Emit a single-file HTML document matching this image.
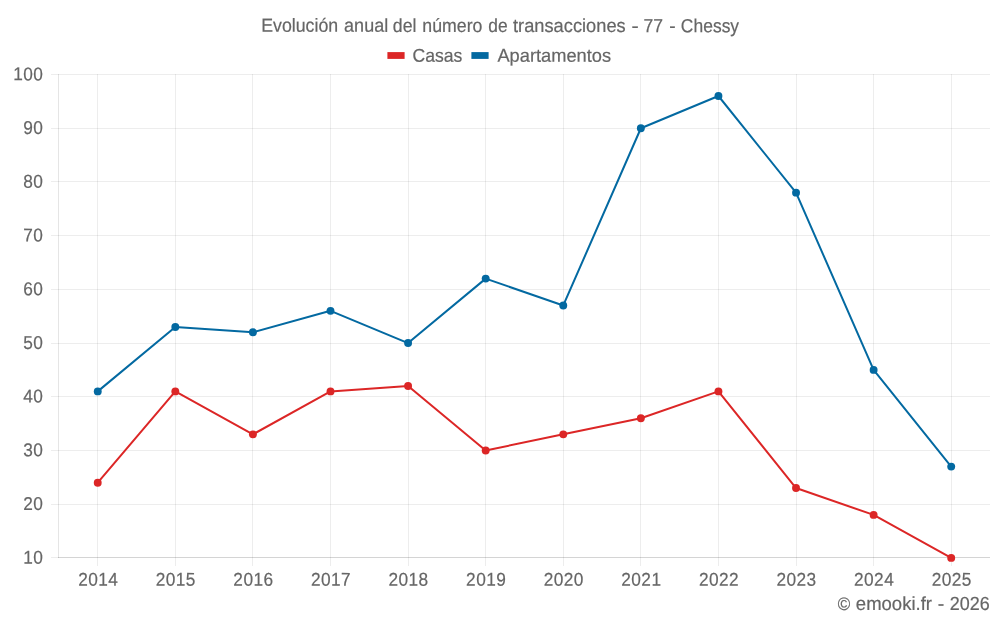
<!DOCTYPE html>
<html lang="es"><head><meta charset="utf-8"><title>Evolución anual del número de transacciones - 77 - Chessy</title>
<style>html,body{margin:0;padding:0;background:#fff;}body{width:1000px;height:625px;overflow:hidden;}svg{display:block;will-change:transform;}text{font-family:'Liberation Sans', sans-serif;font-size:18.6px;fill:#666;stroke:#666;stroke-width:0.2;}</style>
</head><body>
<svg width="1000" height="625" viewBox="0 0 1000 625">
<rect width="1000" height="625" fill="#fff"/>
<g stroke="rgba(0,0,0,0.07)" stroke-width="1" shape-rendering="crispEdges" fill="none">
<line x1="97.5" y1="74.0" x2="97.5" y2="566.0"/>
<line x1="175.5" y1="74.0" x2="175.5" y2="566.0"/>
<line x1="252.5" y1="74.0" x2="252.5" y2="566.0"/>
<line x1="330.5" y1="74.0" x2="330.5" y2="566.0"/>
<line x1="408.5" y1="74.0" x2="408.5" y2="566.0"/>
<line x1="485.5" y1="74.0" x2="485.5" y2="566.0"/>
<line x1="563.5" y1="74.0" x2="563.5" y2="566.0"/>
<line x1="640.5" y1="74.0" x2="640.5" y2="566.0"/>
<line x1="718.5" y1="74.0" x2="718.5" y2="566.0"/>
<line x1="796.5" y1="74.0" x2="796.5" y2="566.0"/>
<line x1="873.5" y1="74.0" x2="873.5" y2="566.0"/>
<line x1="951.5" y1="74.0" x2="951.5" y2="566.0"/>
<line x1="51.0" y1="74.5" x2="990.0" y2="74.5"/>
<line x1="51.0" y1="128.5" x2="990.0" y2="128.5"/>
<line x1="51.0" y1="181.5" x2="990.0" y2="181.5"/>
<line x1="51.0" y1="235.5" x2="990.0" y2="235.5"/>
<line x1="51.0" y1="289.5" x2="990.0" y2="289.5"/>
<line x1="51.0" y1="343.5" x2="990.0" y2="343.5"/>
<line x1="51.0" y1="396.5" x2="990.0" y2="396.5"/>
<line x1="51.0" y1="450.5" x2="990.0" y2="450.5"/>
<line x1="51.0" y1="504.5" x2="990.0" y2="504.5"/>
<line x1="51.0" y1="557.5" x2="990.0" y2="557.5"/>
</g>
<g stroke="rgba(0,0,0,0.1)" stroke-width="1" shape-rendering="crispEdges" fill="none">
<line x1="58.5" y1="74.0" x2="58.5" y2="558.0"/>
<line x1="58.0" y1="557.5" x2="990.0" y2="557.5"/>
</g>
<polyline points="97.74,482.69 175.33,391.39 252.92,434.35 330.51,391.39 408.09,386.02 485.68,450.47 563.27,434.35 640.86,418.24 718.44,391.39 796.03,488.06 873.62,514.91 951.21,557.88" fill="none" stroke="#dc2626" stroke-width="2" stroke-linejoin="round" stroke-linecap="butt"/>
<circle cx="97.74" cy="482.69" r="3.95" fill="#dc2626"/>
<circle cx="175.33" cy="391.39" r="3.95" fill="#dc2626"/>
<circle cx="252.92" cy="434.35" r="3.95" fill="#dc2626"/>
<circle cx="330.51" cy="391.39" r="3.95" fill="#dc2626"/>
<circle cx="408.09" cy="386.02" r="3.95" fill="#dc2626"/>
<circle cx="485.68" cy="450.47" r="3.95" fill="#dc2626"/>
<circle cx="563.27" cy="434.35" r="3.95" fill="#dc2626"/>
<circle cx="640.86" cy="418.24" r="3.95" fill="#dc2626"/>
<circle cx="718.44" cy="391.39" r="3.95" fill="#dc2626"/>
<circle cx="796.03" cy="488.06" r="3.95" fill="#dc2626"/>
<circle cx="873.62" cy="514.91" r="3.95" fill="#dc2626"/>
<circle cx="951.21" cy="557.88" r="3.95" fill="#dc2626"/>
<polyline points="97.74,391.39 175.33,326.94 252.92,332.31 330.51,310.83 408.09,343.05 485.68,278.61 563.27,305.46 640.86,128.23 718.44,96.00 796.03,192.67 873.62,369.91 951.21,466.58" fill="none" stroke="#0369a1" stroke-width="2" stroke-linejoin="round" stroke-linecap="butt"/>
<circle cx="97.74" cy="391.39" r="3.95" fill="#0369a1"/>
<circle cx="175.33" cy="326.94" r="3.95" fill="#0369a1"/>
<circle cx="252.92" cy="332.31" r="3.95" fill="#0369a1"/>
<circle cx="330.51" cy="310.83" r="3.95" fill="#0369a1"/>
<circle cx="408.09" cy="343.05" r="3.95" fill="#0369a1"/>
<circle cx="485.68" cy="278.61" r="3.95" fill="#0369a1"/>
<circle cx="563.27" cy="305.46" r="3.95" fill="#0369a1"/>
<circle cx="640.86" cy="128.23" r="3.95" fill="#0369a1"/>
<circle cx="718.44" cy="96.00" r="3.95" fill="#0369a1"/>
<circle cx="796.03" cy="192.67" r="3.95" fill="#0369a1"/>
<circle cx="873.62" cy="369.91" r="3.95" fill="#0369a1"/>
<circle cx="951.21" cy="466.58" r="3.95" fill="#0369a1"/>
<text y="32.00" transform="matrix(1 0.001 0 1 0 -0.5001)"><tspan x="261.19" font-size="19.0" textLength="77.02" lengthAdjust="spacingAndGlyphs">Evolución</tspan> <tspan x="344.10" font-size="19.0" textLength="44.10" lengthAdjust="spacingAndGlyphs">anual</tspan> <tspan x="392.80" font-size="19.0" textLength="23.60" lengthAdjust="spacingAndGlyphs">del</tspan> <tspan x="422.36" font-size="19.0" textLength="60.10" lengthAdjust="spacingAndGlyphs">número</tspan> <tspan x="488.31" font-size="19.0" textLength="19.35" lengthAdjust="spacingAndGlyphs">de</tspan> <tspan x="513.00" font-size="19.0" textLength="112.69" lengthAdjust="spacingAndGlyphs">transacciones</tspan> <tspan x="631.54" font-size="19.0" textLength="7.20" lengthAdjust="spacingAndGlyphs">-</tspan> <tspan x="643.60" font-size="19.0" textLength="19.54" lengthAdjust="spacingAndGlyphs">77</tspan> <tspan x="669.26" font-size="19.0" textLength="6.36" lengthAdjust="spacingAndGlyphs">-</tspan> <tspan x="680.87" font-size="19.0" textLength="58.24" lengthAdjust="spacingAndGlyphs">Chessy</tspan></text>
<rect x="387.4" y="52.1" width="17.2" height="6.8" fill="#dc2626"/>
<text y="61.80" transform="matrix(1 0.001 0 1 0 -0.4374)"><tspan x="412.45" textLength="49.88" lengthAdjust="spacingAndGlyphs">Casas</tspan></text>
<rect x="471.4" y="52.1" width="17.2" height="6.8" fill="#0369a1"/>
<text y="61.80" transform="matrix(1 0.001 0 1 0 -0.5543)"><tspan x="497.45" textLength="113.69" lengthAdjust="spacingAndGlyphs">Apartamentos</tspan></text>
<text transform="matrix(0.93 0.001 0 1 13.210 80.3651)" textLength="32.03" lengthAdjust="spacing">100</text>
<text transform="matrix(0.93 0.001 0 1 23.140 134.0767)" textLength="21.35" lengthAdjust="spacing">90</text>
<text transform="matrix(0.93 0.001 0 1 23.140 187.7834)" textLength="21.35" lengthAdjust="spacing">80</text>
<text transform="matrix(0.93 0.001 0 1 23.140 241.4901)" textLength="21.35" lengthAdjust="spacing">70</text>
<text transform="matrix(0.93 0.001 0 1 23.140 295.1967)" textLength="21.35" lengthAdjust="spacing">60</text>
<text transform="matrix(0.93 0.001 0 1 23.140 348.9034)" textLength="21.35" lengthAdjust="spacing">50</text>
<text transform="matrix(0.93 0.001 0 1 23.140 402.6101)" textLength="21.35" lengthAdjust="spacing">40</text>
<text transform="matrix(0.93 0.001 0 1 23.140 456.3167)" textLength="21.35" lengthAdjust="spacing">30</text>
<text transform="matrix(0.93 0.001 0 1 23.140 510.0234)" textLength="21.35" lengthAdjust="spacing">20</text>
<text transform="matrix(0.93 0.001 0 1 23.140 563.7301)" textLength="21.35" lengthAdjust="spacing">10</text>
<text transform="matrix(0.93 0.001 0 1 78.184 585.7301)" textLength="42.71" lengthAdjust="spacing">2014</text>
<text transform="matrix(0.93 0.001 0 1 155.771 585.7301)" textLength="42.71" lengthAdjust="spacing">2015</text>
<text transform="matrix(0.93 0.001 0 1 233.359 585.7301)" textLength="42.71" lengthAdjust="spacing">2016</text>
<text transform="matrix(0.93 0.001 0 1 310.946 585.7301)" textLength="42.71" lengthAdjust="spacing">2017</text>
<text transform="matrix(0.93 0.001 0 1 388.534 585.7301)" textLength="42.71" lengthAdjust="spacing">2018</text>
<text transform="matrix(0.93 0.001 0 1 466.121 585.7301)" textLength="42.71" lengthAdjust="spacing">2019</text>
<text transform="matrix(0.93 0.001 0 1 543.709 585.7301)" textLength="42.71" lengthAdjust="spacing">2020</text>
<text transform="matrix(0.93 0.001 0 1 621.296 585.7301)" textLength="42.71" lengthAdjust="spacing">2021</text>
<text transform="matrix(0.93 0.001 0 1 698.884 585.7301)" textLength="42.71" lengthAdjust="spacing">2022</text>
<text transform="matrix(0.93 0.001 0 1 776.471 585.7301)" textLength="42.71" lengthAdjust="spacing">2023</text>
<text transform="matrix(0.93 0.001 0 1 854.059 585.7301)" textLength="42.71" lengthAdjust="spacing">2024</text>
<text transform="matrix(0.93 0.001 0 1 931.646 585.7301)" textLength="42.71" lengthAdjust="spacing">2025</text>
<text y="610.00" transform="matrix(1 0.001 0 1 0 -0.9138)"><tspan x="837.85" font-size="18.0" y="610.00" textLength="12.48" lengthAdjust="spacingAndGlyphs">©</tspan> <tspan x="855.86" font-size="19.0" textLength="76.14" lengthAdjust="spacingAndGlyphs">emooki.fr</tspan> <tspan x="937.74" font-size="19.0" textLength="6.49" lengthAdjust="spacingAndGlyphs">-</tspan> <tspan x="949.79" font-size="19.0" textLength="39.99" lengthAdjust="spacingAndGlyphs">2026</tspan></text>
</svg></body></html>
